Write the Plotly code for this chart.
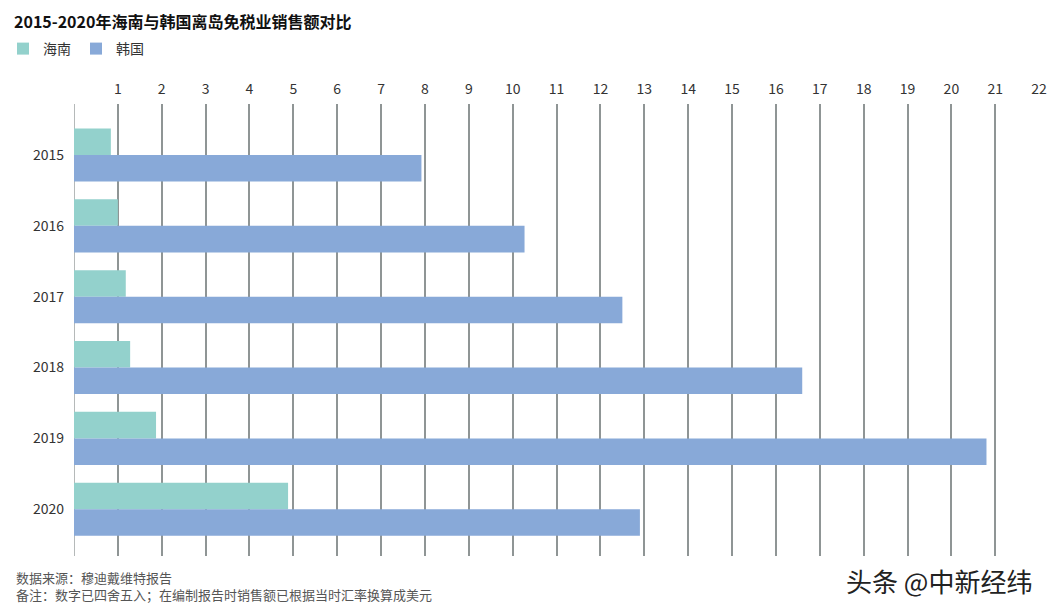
import plotly.graph_objects as go

years = ["2015", "2016", "2017", "2018", "2019", "2020"]
hainan = [0.84, 1.0, 1.18, 1.28, 1.87, 4.88]
korea = [7.92, 10.27, 12.5, 16.6, 20.8, 12.9]
tick_vals = list(range(1, 23))

FONT = "Noto Sans CJK SC"
W, H = 1054, 612
L, R, T, B = 74, 14, 104, 56
pw = W - L - R
ph = H - T - B

fig = go.Figure()
fig.add_trace(go.Bar(name="海南", y=years, x=hainan, orientation="h",
                     marker=dict(color="#93d1cc", line=dict(width=0))))
fig.add_trace(go.Bar(name="韩国", y=years, x=korea, orientation="h",
                     marker=dict(color="#88a9d8", line=dict(width=0))))

def px_x(p):
    return (p - L) / pw

def px_y(p):
    return 1 - (p - T) / ph

fig.update_layout(
    width=W, height=H, autosize=False,
    margin=dict(l=L, r=R, t=T, b=B, autoexpand=False),
    paper_bgcolor="white", plot_bgcolor="white",
    font=dict(family=FONT, size=14, color="#333333"),
    barmode="group", bargap=0.25, bargroupgap=0,
    title=dict(text="<b>2015-2020年海南与韩国离岛免税业销售额对比</b>",
               x=14 / W, xanchor="left", y=1 - 22 / H, yanchor="middle",
               font=dict(family=FONT, size=16, color="#111111")),
    legend=dict(orientation="h", xref="container", yref="container",
                x=3 / W, xanchor="left", y=1 - 49 / H, yanchor="middle",
                font=dict(family=FONT, size=14, color="#333333"),
                itemwidth=30, traceorder="normal", bgcolor="rgba(0,0,0,0)"),
    xaxis=dict(side="top", range=[0, 22.02], tickvals=tick_vals,
               ticktext=[str(v) for v in tick_vals],
               showgrid=True, gridcolor="#8f9595", gridwidth=2,
               zeroline=True, zerolinecolor="#b5b9b9", zerolinewidth=1,
               showline=False, ticks="", tickfont=dict(size=14, color="#333333"),
               ticklabelstandoff=6, automargin=False),
    yaxis=dict(type="category", range=[5.66, -0.72], showgrid=False,
               zeroline=False, showline=False, ticks="", automargin=False,
               tickfont=dict(size=14, color="#333333"), ticklabelstandoff=9),
    annotations=[
        dict(text="数据来源：穆迪戴维特报告", xref="paper", yref="paper",
             x=px_x(14), y=px_y(577), xanchor="left", yanchor="middle",
             showarrow=False, font=dict(family=FONT, size=13, color="#555555")),
        dict(text="备注：数字已四舍五入；在编制报告时销售额已根据当时汇率换算成美元",
             xref="paper", yref="paper",
             x=px_x(14), y=px_y(594), xanchor="left", yanchor="middle",
             showarrow=False, font=dict(family=FONT, size=13, color="#555555")),
        dict(text="头条 @中新经纬", xref="paper", yref="paper",
             x=px_x(939), y=px_y(580), xanchor="center", yanchor="middle",
             showarrow=False, font=dict(family=FONT, size=26, color="#222222")),
    ],
)

fig.write_html("out.html",
               config={"responsive": False, "displayModeBar": False},
               post_script="document.body.style.margin='0';document.body.style.padding='0';document.body.style.overflow='hidden';")
